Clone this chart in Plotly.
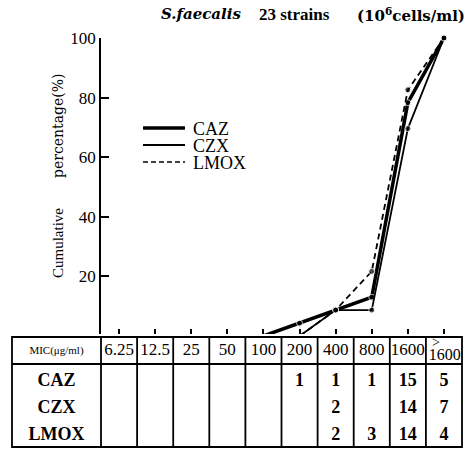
import plotly.graph_objects as go

W, H = 469, 449

# ---------------- data ----------------
categories = ["6.25", "12.5", "25", "50", "100", "200", "400", "800", "1600", ">1600"]
drugs = ["CAZ", "CZX", "LMOX"]

# number of strains per MIC (table)
caz_counts = [None, None, None, None, None, 1, 1, 1, 15, 5]
czx_counts = [None, None, None, None, None, None, 2, None, 14, 7]
lmox_counts = [None, None, None, None, None, None, 2, 3, 14, 4]

# cumulative percentage curves
caz_x = ["100", "200", "400", "800", "1600", ">1600"]
caz_pct = [0, 4.3, 8.7, 13.0, 78.3, 100]
czx_x = ["200", "400", "800", "1600", ">1600"]
czx_pct = [0, 8.7, 8.7, 69.6, 100]
lmox_x = ["200", "400", "800", "1600", ">1600"]
lmox_pct = [0, 8.7, 21.7, 82.6, 100]

y_ticks = [20, 40, 60, 80, 100]

# ---------------- helpers (pixel -> paper) ----------------
def pxx(p):
    return p / W

def pxy(p):
    return 1 - p / H

SERIF = "Liberation Serif"
BLACK = "black"

fig = go.Figure()

# ---------------- curves ----------------
def sizes(n):
    return [0] + [6] * (n - 1)

fig.add_trace(go.Scatter(x=caz_x, y=caz_pct, mode="lines+markers", name="CAZ",
                         line=dict(color=BLACK, width=3.5),
                         marker=dict(color=BLACK, size=sizes(len(caz_x))),
                         showlegend=False, cliponaxis=False))
fig.add_trace(go.Scatter(x=czx_x, y=czx_pct, mode="lines+markers", name="CZX",
                         line=dict(color=BLACK, width=1.8),
                         marker=dict(color=BLACK, size=sizes(len(czx_x))),
                         showlegend=False, cliponaxis=False))
fig.add_trace(go.Scatter(x=lmox_x, y=lmox_pct, mode="lines+markers", name="LMOX",
                         line=dict(color=BLACK, width=1.8, dash="6px,4px"),
                         marker=dict(color=BLACK, size=sizes(len(lmox_x))),
                         showlegend=False, cliponaxis=False))

# ---------------- table (second subplot, linear axes) ----------------
tab_left_px, tab_right_px, tab_top_px, tab_bot_px = 12, 462, 337, 447
idx = list(range(len(categories)))
unit = (462 - 101) / 10.0           # px per category step
c0 = 101 + unit / 2                 # px of first category centre

x2_dom_px = (8, 466)
x2_range = [(x2_dom_px[0] - c0) / unit, (x2_dom_px[1] - c0) / unit]
y2_dom_px = (334, 449)
y2_range = [y2_dom_px[1] - tab_top_px, y2_dom_px[0] - tab_top_px]  # reversed: px below table top

left_border = (tab_left_px - c0) / unit
first_col_centre = (left_border + (-0.5)) / 2

# header texts
fig.add_trace(go.Scatter(x=idx[:-1], y=[14] * (len(categories) - 1),
                         text=categories[:-1], mode="text",
                         textfont=dict(family=SERIF, size=17, color=BLACK),
                         xaxis="x2", yaxis="y2", showlegend=False, hoverinfo="skip",
                         cliponaxis=False))
fig.add_trace(go.Scatter(x=[idx[-1] - 0.22, idx[-1] + 0.02], y=[6, 19],
                         text=["&gt;", categories[-1].lstrip(">")], mode="text",
                         textfont=dict(family=SERIF, size=[14, 16], color=BLACK),
                         xaxis="x2", yaxis="y2", showlegend=False, hoverinfo="skip",
                         cliponaxis=False))
fig.add_trace(go.Scatter(x=[first_col_centre], y=[14], text=["MIC(μg/ml)"], mode="text",
                         textfont=dict(family=SERIF, size=11, color=BLACK),
                         xaxis="x2", yaxis="y2", showlegend=False, hoverinfo="skip",
                         cliponaxis=False))

row_y = [44, 71, 98]
for drug, counts, ry in zip(drugs, [caz_counts, czx_counts, lmox_counts], row_y):
    xs = [first_col_centre] + [i for i, c in zip(idx, counts) if c is not None]
    ts = [drug] + [str(c) for c in counts if c is not None]
    fig.add_trace(go.Scatter(x=xs, y=[ry] * len(xs), text=ts, mode="text",
                             textfont=dict(family=SERIF, size=18, color=BLACK, weight="bold"),
                             xaxis="x2", yaxis="y2", showlegend=False, hoverinfo="skip",
                             cliponaxis=False))

shapes = []
lw = 1.8
# outer border
shapes.append(dict(type="rect", xref="x2", yref="y2", x0=left_border, x1=idx[-1] + 0.5,
                   y0=0, y1=tab_bot_px - tab_top_px, line=dict(color=BLACK, width=lw)))
# column lines
for k in range(-1, len(categories) - 1):
    shapes.append(dict(type="line", xref="x2", yref="y2", x0=k + 0.5, x1=k + 0.5,
                       y0=0, y1=tab_bot_px - tab_top_px, line=dict(color=BLACK, width=lw)))
# header separator
shapes.append(dict(type="line", xref="x2", yref="y2", x0=left_border, x1=idx[-1] + 0.5,
                   y0=27, y1=27, line=dict(color=BLACK, width=lw)))

# ---------------- legend (custom) ----------------
leg = [("CAZ", 128, dict(color=BLACK, width=3.5)),
       ("CZX", 145, dict(color=BLACK, width=2.2)),
       ("LMOX", 162, dict(color=BLACK, width=1.6, dash="5px,3px"))]
annotations = []
for name, yy, ln in leg:
    shapes.append(dict(type="line", xref="paper", yref="paper",
                       x0=pxx(143), x1=pxx(185), y0=pxy(yy), y1=pxy(yy), line=ln))
    annotations.append(dict(text=name, xref="paper", yref="paper", x=pxx(191), y=pxy(yy + 1),
                            xanchor="left", yanchor="middle", showarrow=False,
                            font=dict(family=SERIF, size=18, color=BLACK)))

# ---------------- titles ----------------
annotations.append(dict(text="<i>S.faecalis</i>", xref="paper", yref="paper",
                        x=pxx(159), y=pxy(14), xanchor="left", yanchor="middle", showarrow=False,
                        font=dict(family="DejaVu Serif", size=15, color=BLACK, weight="bold")))
annotations.append(dict(text="23 strains", xref="paper", yref="paper",
                        x=pxx(257), y=pxy(15), xanchor="left", yanchor="middle", showarrow=False,
                        font=dict(family=SERIF, size=17, color=BLACK, weight="bold")))
annotations.append(dict(text="(10<sup>6</sup>cells/ml)", xref="paper", yref="paper",
                        x=pxx(467), y=pxy(15), xanchor="right", yanchor="middle", showarrow=False,
                        font=dict(family="DejaVu Serif", size=15, color=BLACK, weight="bold")))
annotations.append(dict(text="Cumulative", xref="paper", yref="paper", textangle=-90,
                        x=pxx(58), y=pxy(243), xanchor="center", yanchor="middle", showarrow=False,
                        font=dict(family=SERIF, size=15, color=BLACK)))
annotations.append(dict(text="percentage(%)", xref="paper", yref="paper", textangle=-90,
                        x=pxx(58), y=pxy(126), xanchor="center", yanchor="middle", showarrow=False,
                        font=dict(family="DejaVu Serif", size=14, color=BLACK)))

fig.update_layout(
    width=W, height=H,
    margin=dict(l=0, r=0, t=0, b=0, pad=0, autoexpand=False),
    paper_bgcolor="white", plot_bgcolor="white",
    showlegend=False,
    shapes=shapes,
    annotations=annotations,
    xaxis=dict(domain=[pxx(101), pxx(462)], type="category",
               categoryorder="array", categoryarray=categories,
               range=[-0.5, len(categories) - 0.5],
               showticklabels=False, ticks="inside", ticklen=7, tickwidth=1.5, tickcolor=BLACK,
               showline=True, linecolor=BLACK, linewidth=1.5, showgrid=False, zeroline=False,
               fixedrange=True, automargin=False),
    yaxis=dict(domain=[pxy(336), pxy(38)], range=[0, 100],
               tickvals=y_ticks, ticks="inside", ticklen=8, tickwidth=1.5, tickcolor=BLACK,
               tickfont=dict(family=SERIF, size=17, color=BLACK),
               showline=True, linecolor=BLACK, linewidth=1.5, showgrid=False, zeroline=False,
               fixedrange=True, automargin=False),
    xaxis2=dict(domain=[pxx(x2_dom_px[0]), pxx(x2_dom_px[1])], range=x2_range,
                anchor="y2", visible=False, fixedrange=True, automargin=False),
    yaxis2=dict(domain=[pxy(y2_dom_px[1]), pxy(y2_dom_px[0])], range=y2_range,
                anchor="x2", visible=False, fixedrange=True, automargin=False),
)

fig.write_html("out.html", config={"displayModeBar": False},
               post_script="document.body.style.margin='0';document.body.style.overflow='hidden';")
